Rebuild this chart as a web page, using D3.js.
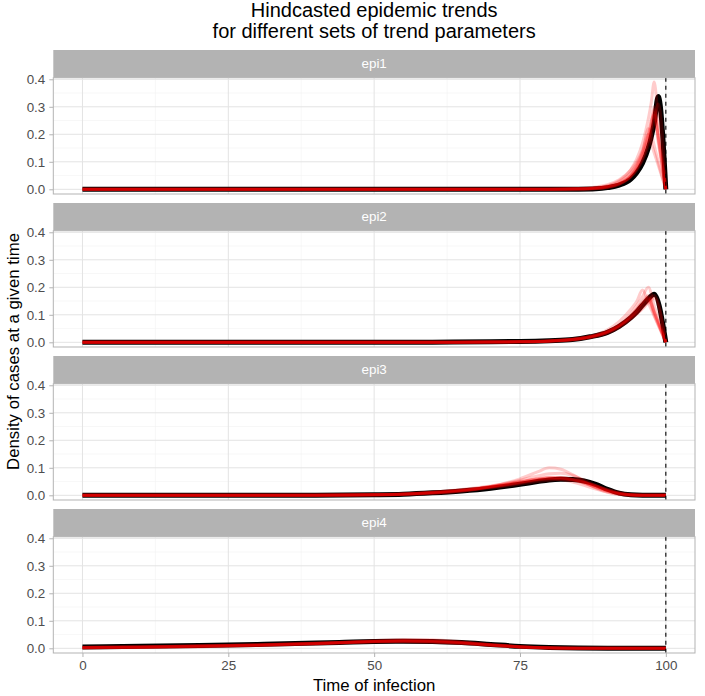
<!DOCTYPE html>
<html>
<head>
<meta charset="utf-8">
<script src="https://cdn.jsdelivr.net/npm/d3@7"></script>
<style>
	body { margin:0; background:#fff; }
	text { font-family:"Liberation Sans", Arial, sans-serif; }
</style>
</head>
<body>
<div id="idChart"></div>
<script>
var aPanelNames=["epi1","epi2","epi3","epi4"];
var aXTicks=[0,25,50,75,100];
var aYTicks=[0,0.1,0.2,0.3,0.4];

// epi1
var aTimes1=[0,40,60,70,80,85,88,90,92,94,95,96,97,97.5,98,98.7,100];
var aBlack1=[0,0,0,0,0.0001,0.0006,0.002,0.006,0.015,0.037,0.06,0.095,0.15,0.19,0.24,0.337,0];
var aRed1=[
	[0,0,0,0,0.0002,0.0017,0.0055,0.012,0.027,0.06,0.09,0.135,0.20,0.246,0.30,0.195,0],
	[0,0,0,0,0.0001,0.0009,0.0036,0.0089,0.022,0.054,0.085,0.133,0.2,0.25,0.27,0.17,0],
	[0,0,0,0,0.0001,0.001,0.0037,0.0085,0.02,0.046,0.07,0.106,0.16,0.2,0.246,0.31,0],
	[0,0,0,0,0,0.0005,0.0024,0.0066,0.018,0.049,0.081,0.133,0.22,0.2,0.16,0.1,0],
	[0,0,0,0,0.0001,0.0008,0.0031,0.0077,0.019,0.046,0.073,0.114,0.18,0.224,0.28,0.182,0],
	[0,0,0,0,0.0001,0.001,0.004,0.009,0.021,0.05,0.078,0.12,0.185,0.232,0.29,0.19,0],
	[0,0,0,0,0.0002,0.0016,0.0058,0.013,0.031,0.072,0.11,0.168,0.256,0.316,0.39,0.254,0],
	[0,0,0,0,0.0005,0.003,0.0087,0.017,0.035,0.07,0.099,0.141,0.2,0.167,0.133,0.087,0]
];

// epi2
var aTimes2=[0,20,40,60,70,75,80,84,87,90,92,94,95,96,97,98,100];
var aBlack2=[0,0,0.0001,0.0006,0.0018,0.003,0.006,0.01,0.02,0.036,0.058,0.09,0.11,0.135,0.158,0.175,0];
var aRed2=[
	[0,0,0,0.0003,0.001,0.002,0.005,0.011,0.021,0.04,0.063,0.097,0.12,0.145,0.165,0.11,0],
	[0,0,0,0.0003,0.001,0.002,0.004,0.009,0.017,0.033,0.054,0.085,0.104,0.126,0.15,0.17,0],
	[0,0,0,0.0004,0.0013,0.0025,0.006,0.012,0.022,0.04,0.06,0.09,0.11,0.135,0.155,0.1,0],
	[0,0,0,0.0002,0.0008,0.0016,0.004,0.009,0.018,0.036,0.06,0.096,0.12,0.148,0.17,0.113,0],
	[0,0,0,0.0003,0.001,0.002,0.005,0.01,0.019,0.036,0.056,0.085,0.102,0.122,0.143,0.16,0],
	[0,0,0,0.0003,0.0011,0.0022,0.005,0.011,0.02,0.039,0.06,0.092,0.114,0.14,0.16,0.107,0],
	[0,0,0,0.0002,0.0008,0.0016,0.004,0.009,0.018,0.037,0.062,0.104,0.133,0.166,0.2,0.133,0],
	[0,0,0,0.0002,0.0008,0.0017,0.0045,0.01,0.021,0.045,0.075,0.12,0.148,0.19,0.143,0.095,0]
];

// epi3
var aTimes3=[0,20,40,50,55,60,65,70,75,78,80,82,84,86,88,90,92,94,96,100];
var aBlack3=[0,0,0.0005,0.002,0.004,0.009,0.016,0.026,0.04,0.05,0.056,0.058,0.057,0.052,0.04,0.022,0.008,0.002,0.0003,0];
var aRed3=[
	[0,0,0.0005,0.002,0.0045,0.01,0.018,0.03,0.045,0.055,0.06,0.062,0.058,0.048,0.034,0.019,0.008,0.002,0.0003,0],
	[0,0,0.0006,0.0025,0.005,0.011,0.02,0.032,0.048,0.059,0.064,0.063,0.056,0.044,0.029,0.015,0.006,0.0015,0.0002,0],
	[0,0,0.0004,0.0018,0.004,0.009,0.016,0.027,0.041,0.05,0.055,0.058,0.056,0.048,0.035,0.021,0.01,0.003,0.0005,0],
	[0,0,0.0004,0.0017,0.0038,0.0085,0.017,0.03,0.048,0.06,0.066,0.065,0.058,0.045,0.029,0.015,0.006,0.0012,0.0001,0],
	[0,0,0.0005,0.002,0.0045,0.01,0.018,0.03,0.046,0.057,0.063,0.064,0.058,0.047,0.033,0.019,0.008,0.002,0.0003,0],
	[0,0,0.0007,0.003,0.006,0.012,0.021,0.034,0.05,0.058,0.06,0.057,0.048,0.036,0.023,0.012,0.004,0.001,0.0001,0],
	[0,0,0.0002,0.001,0.0025,0.0065,0.015,0.032,0.06,0.085,0.1,0.095,0.075,0.05,0.027,0.011,0.003,0.0005,0,0],
	[0,0,0.0003,0.0015,0.0035,0.008,0.017,0.032,0.055,0.07,0.078,0.08,0.072,0.055,0.035,0.017,0.006,0.0013,0.0002,0]
];

// epi4
var aTimes4=[0,10,20,30,40,45,50,55,60,65,70,75,80,85,90,100];
var aBlack4=[0.005,0.007,0.01,0.014,0.019,0.022,0.025,0.026,0.025,0.021,0.014,0.007,0.003,0.001,0.0002,0];
var aRed4=[
	[0.003,0.005,0.008,0.012,0.018,0.022,0.026,0.027,0.025,0.019,0.011,0.005,0.0015,0.0003,0,0],
	[0.002,0.004,0.007,0.011,0.017,0.021,0.025,0.028,0.027,0.021,0.013,0.006,0.002,0.0004,0,0],
	[0.003,0.005,0.008,0.012,0.017,0.02,0.024,0.025,0.023,0.018,0.011,0.005,0.0016,0.0003,0,0],
	[0.002,0.004,0.006,0.01,0.016,0.02,0.025,0.029,0.028,0.022,0.013,0.005,0.0014,0.0002,0,0],
	[0.003,0.005,0.008,0.012,0.018,0.022,0.026,0.026,0.024,0.019,0.012,0.006,0.002,0.0005,0,0],
	[0.002,0.004,0.007,0.011,0.016,0.02,0.024,0.026,0.025,0.02,0.012,0.005,0.0015,0.0003,0,0],
	[0.001,0.003,0.006,0.01,0.017,0.022,0.028,0.032,0.031,0.024,0.014,0.006,0.0015,0.0002,0,0],
	[0.004,0.006,0.009,0.013,0.018,0.021,0.024,0.024,0.022,0.017,0.011,0.005,0.0017,0.0004,0,0]
];

var aPanels=[
	{sName:aPanelNames[0], aTimes:aTimes1, aBlack:aBlack1, aRed:aRed1},
	{sName:aPanelNames[1], aTimes:aTimes2, aBlack:aBlack2, aRed:aRed2},
	{sName:aPanelNames[2], aTimes:aTimes3, aBlack:aBlack3, aRed:aRed3},
	{sName:aPanelNames[3], aTimes:aTimes4, aBlack:aBlack4, aRed:aRed4}
];

var iWidth=705;
var iHeight=696;
var iLeft=53.3;
var iRight=695;
var iTop=50;
var iStripH=27.7;
var iPlotH=116.3;
var iStep=153;

var mySvg=d3.select("#idChart").append("svg")
	.attr("width",iWidth)
	.attr("height",iHeight);

var xScale=d3.scaleLinear().domain([-5,105]).range([iLeft,iRight]);
var yScale=d3.scaleLinear().domain([-0.0171,0.4058]).range([iPlotH,0]);

var myLine=function(aTimes){
	return d3.line()
		.x(function(v,i){return xScale(aTimes[i]);})
		.y(function(v){return yScale(v);})
		.curve(d3.curveMonotoneX);
};

// title, two lines
mySvg.append("text")
	.attr("x",(iLeft+iRight)/2).attr("y",17)
	.attr("text-anchor","middle")
	.attr("font-size","20px")
	.text("Hindcasted epidemic trends");
mySvg.append("text")
	.attr("x",(iLeft+iRight)/2).attr("y",37.5)
	.attr("text-anchor","middle")
	.attr("font-size","20px")
	.text("for different sets of trend parameters");

aPanels.forEach(function(oPanel,iPanel){
	var iY0=iTop+iPanel*iStep;
	var myStrip=mySvg.append("g").attr("transform","translate(0,"+iY0+")");
	myStrip.append("rect")
		.attr("x",iLeft).attr("y",0)
		.attr("width",iRight-iLeft).attr("height",iStripH)
		.attr("fill","#B3B3B3");
	myStrip.append("text")
		.attr("x",(iLeft+iRight)/2).attr("y",iStripH/2+4.6)
		.attr("text-anchor","middle")
		.attr("font-size","13.4px")
		.attr("fill","#fff")
		.text(oPanel.sName);

	var myPanel=mySvg.append("g").attr("transform","translate(0,"+(iY0+iStripH)+")");

	// minor grid
	myPanel.selectAll(".xMinor").data([12.5,37.5,62.5,87.5]).enter().append("line")
		.attr("x1",function(d){return xScale(d);}).attr("x2",function(d){return xScale(d);})
		.attr("y1",0).attr("y2",iPlotH)
		.attr("stroke","#F2F2F2").attr("stroke-width",0.6);
	myPanel.selectAll(".yMinor").data([0.05,0.15,0.25,0.35]).enter().append("line")
		.attr("x1",iLeft).attr("x2",iRight)
		.attr("y1",function(d){return yScale(d);}).attr("y2",function(d){return yScale(d);})
		.attr("stroke","#F2F2F2").attr("stroke-width",0.6);
	// major grid
	myPanel.selectAll(".xMajor").data(aXTicks).enter().append("line")
		.attr("x1",function(d){return xScale(d);}).attr("x2",function(d){return xScale(d);})
		.attr("y1",0).attr("y2",iPlotH)
		.attr("stroke","#E3E3E3").attr("stroke-width",1);
	myPanel.selectAll(".yMajor").data(aYTicks).enter().append("line")
		.attr("x1",iLeft).attr("x2",iRight)
		.attr("y1",function(d){return yScale(d);}).attr("y2",function(d){return yScale(d);})
		.attr("stroke","#E3E3E3").attr("stroke-width",1);

	// black reference curve
	myPanel.append("path")
		.datum(oPanel.aBlack)
		.attr("d",myLine(oPanel.aTimes))
		.attr("fill","none")
		.attr("stroke","#000")
		.attr("stroke-width",5)
		.attr("stroke-linejoin","round");

	// hindcasted curves
	myPanel.selectAll(".redLine").data(oPanel.aRed).enter().append("path")
		.attr("d",myLine(oPanel.aTimes))
		.attr("fill","none")
		.attr("stroke","#FF0000")
		.attr("stroke-opacity",0.2)
		.attr("stroke-width",3)
		.attr("stroke-linejoin","round");

	// dashed line at t=100
	myPanel.append("line")
		.attr("x1",xScale(100)).attr("x2",xScale(100))
		.attr("y1",0).attr("y2",iPlotH)
		.attr("stroke","#000").attr("stroke-width",1.1)
		.attr("stroke-dasharray","4,4");

	// border
	myPanel.append("rect")
		.attr("x",iLeft).attr("y",0)
		.attr("width",iRight-iLeft).attr("height",iPlotH)
		.attr("fill","none").attr("stroke","#B3B3B3").attr("stroke-width",1);

	// y axis
	var myYAxis=myPanel.append("g")
		.attr("transform","translate("+iLeft+",0)")
		.call(d3.axisLeft(yScale).tickValues(aYTicks).tickFormat(d3.format(".1f")).tickSize(4).tickPadding(4));
	myYAxis.select(".domain").remove();
	myYAxis.selectAll("line").attr("stroke","#B3B3B3");
	myYAxis.selectAll("text").attr("fill","#4D4D4D").attr("font-size","13.4px").attr("font-family","Liberation Sans, Arial, sans-serif");

	if(iPanel==aPanels.length-1){
		var myXAxis=myPanel.append("g")
			.attr("transform","translate(0,"+iPlotH+")")
			.call(d3.axisBottom(xScale).tickValues(aXTicks).tickSize(4).tickPadding(3));
		myXAxis.select(".domain").remove();
		myXAxis.selectAll("line").attr("stroke","#B3B3B3");
		myXAxis.selectAll("text").attr("fill","#4D4D4D").attr("font-size","13.4px").attr("font-family","Liberation Sans, Arial, sans-serif");
	}
});

// axis titles
mySvg.append("text")
	.attr("x",(iLeft+iRight)/2).attr("y",691)
	.attr("text-anchor","middle")
	.attr("font-size","16.8px")
	.text("Time of infection");

mySvg.append("text")
	.attr("transform","translate(19,"+((iTop+iTop+3*iStep+iStripH+iPlotH)/2)+") rotate(-90)")
	.attr("text-anchor","middle")
	.attr("font-size","16.8px")
	.text("Density of cases at a given time");
</script>
</body>
</html>
